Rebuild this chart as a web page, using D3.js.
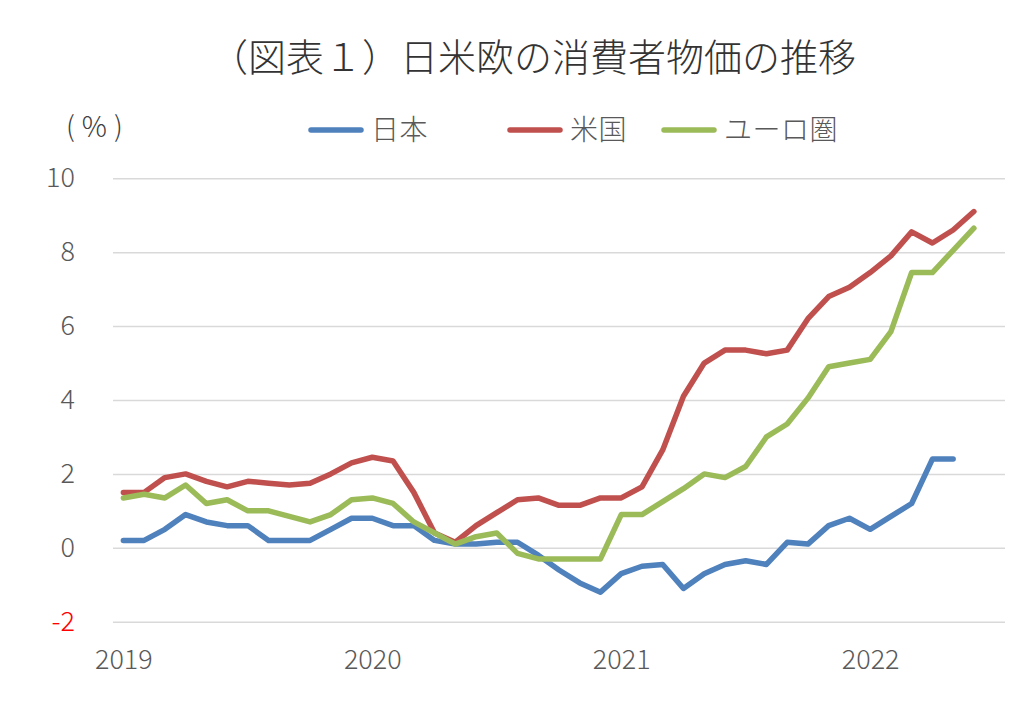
<!DOCTYPE html>
<html>
<head>
<meta charset="utf-8">
<script src="https://cdn.jsdelivr.net/npm/d3@7"></script>
<style>
  html, body { margin: 0; padding: 0; background: #fff; }
  svg { display: block; }
  text { font-family: "Noto Sans CJK JP", "Noto Sans", sans-serif; font-weight: 300; }
</style>
</head>
<body>
<svg id="chart" width="1024" height="706"></svg>
<script>
// ---- data ----
const months = [];
for (let yy = 2019; yy <= 2022; yy++) {
  for (let m = 1; m <= 12; m++) {
    if (yy === 2022 && m > 7) break;
    months.push(yy + "-" + String(m).padStart(2, "0"));
  }
}
const yearLabels = ["2019", "2020", "2021", "2022"];
const yTicks = [-2, 0, 2, 4, 6, 8, 10];
const seriesNames = ["日本", "米国", "ユーロ圏"];
const japan = [0.2,0.2,0.5,0.9,0.7,0.6,0.6,0.2,0.2,0.2,0.5,0.8,0.8,0.6,0.6,0.2,0.1,0.1,0.15,0.15,-0.2,-0.6,-0.95,-1.2,-0.7,-0.5,-0.45,-1.1,-0.7,-0.45,-0.35,-0.45,0.15,0.1,0.6,0.8,0.5,0.85,1.2,2.4,2.4];
const us    = [1.5,1.5,1.9,2.0,1.8,1.65,1.8,1.75,1.7,1.75,2.0,2.3,2.45,2.35,1.5,0.4,0.15,0.6,0.95,1.3,1.35,1.15,1.15,1.35,1.35,1.65,2.65,4.1,5.0,5.35,5.35,5.25,5.35,6.2,6.8,7.05,7.45,7.9,8.55,8.25,8.6,9.1];
const euro  = [1.35,1.45,1.35,1.7,1.2,1.3,1.0,1.0,0.85,0.7,0.9,1.3,1.35,1.2,0.7,0.4,0.1,0.3,0.4,-0.15,-0.3,-0.3,-0.3,-0.3,0.9,0.9,1.25,1.6,2.0,1.9,2.2,3.0,3.35,4.05,4.9,5.0,5.1,5.85,7.45,7.45,8.05,8.65];
const seriesValues = [japan, us, euro];
const colors = ["#4F81BD", "#C0504D", "#9BBB59"];

// ---- layout ----
const svg = d3.select("#chart");
const plotL = 113, plotR = 1005, plotT = 178.3, plotB = 621.7;

const x = d3.scalePoint().domain(months).range([plotL, plotR]).padding(0.5);
const y = d3.scaleLinear().domain([-2, 10]).range([plotB, plotT]);

// title
svg.append("text")
  .attr("x", 533).attr("y", 71)
  .attr("text-anchor", "middle")
  .attr("font-size", 38)
  .attr("fill", "#333333")
  .text("（図表１）日米欧の消費者物価の推移");

// unit label
svg.append("text")
  .attr("x", 66).attr("y", 137)
  .attr("font-size", 28)
  .attr("letter-spacing", 7)
  .attr("fill", "#404040")
  .text("(%)");

// gridlines
const yAxis = d3.axisLeft(y).tickValues(yTicks).tickSize(-(plotR - plotL)).tickPadding(38).tickFormat(d => String(d));
const gY = svg.append("g").attr("transform", `translate(${plotL},0)`).call(yAxis);
gY.select(".domain").remove();
gY.selectAll(".tick line").attr("stroke", "#d9d9d9").attr("stroke-width", 1.5);
gY.selectAll(".tick text")
  .attr("font-size", 27)
  .attr("fill", d => d < 0 ? "#FF0000" : "#595959")
  .attr("font-family", "'Noto Sans CJK JP', sans-serif");

// x axis year labels
const yearTickVals = months.filter(m => m.endsWith("-01"));
const xAxis = d3.axisBottom(x).tickValues(yearTickVals).tickSize(0).tickPadding(0)
  .tickFormat((d, i) => yearLabels[i]);
const gX = svg.append("g").attr("transform", `translate(0,${plotB + 28})`).call(xAxis);
gX.select(".domain").remove();
gX.selectAll(".tick text")
  .attr("font-size", 27)
  .attr("fill", "#595959")
  .attr("dy", "0.71em")
  .attr("font-family", "'Noto Sans CJK JP', sans-serif");

// lines
const line = d3.line()
  .x((d, i) => x(months[i]))
  .y(d => y(d));
seriesValues.forEach((vals, k) => {
  svg.append("path")
    .datum(vals)
    .attr("fill", "none")
    .attr("stroke", colors[k])
    .attr("stroke-width", 5.5)
    .attr("stroke-linejoin", "round")
    .attr("stroke-linecap", "round")
    .attr("d", line);
});

// legend
const legendX = [311, 510, 664];
const leg = svg.append("g");
seriesNames.forEach((name, k) => {
  const g = leg.append("g").attr("transform", `translate(${legendX[k]},130)`);
  g.append("line").attr("x1", 0).attr("x2", 50).attr("y1", 0).attr("y2", 0)
    .attr("stroke", colors[k]).attr("stroke-width", 5.5).attr("stroke-linecap", "round");
  g.append("text").attr("x", 60).attr("y", 0).attr("dy", "0.36em")
    .attr("font-size", 28).attr("fill", "#595959")
    .attr("letter-spacing", 0.5)
    .text(name);
});
</script>
</body>
</html>
